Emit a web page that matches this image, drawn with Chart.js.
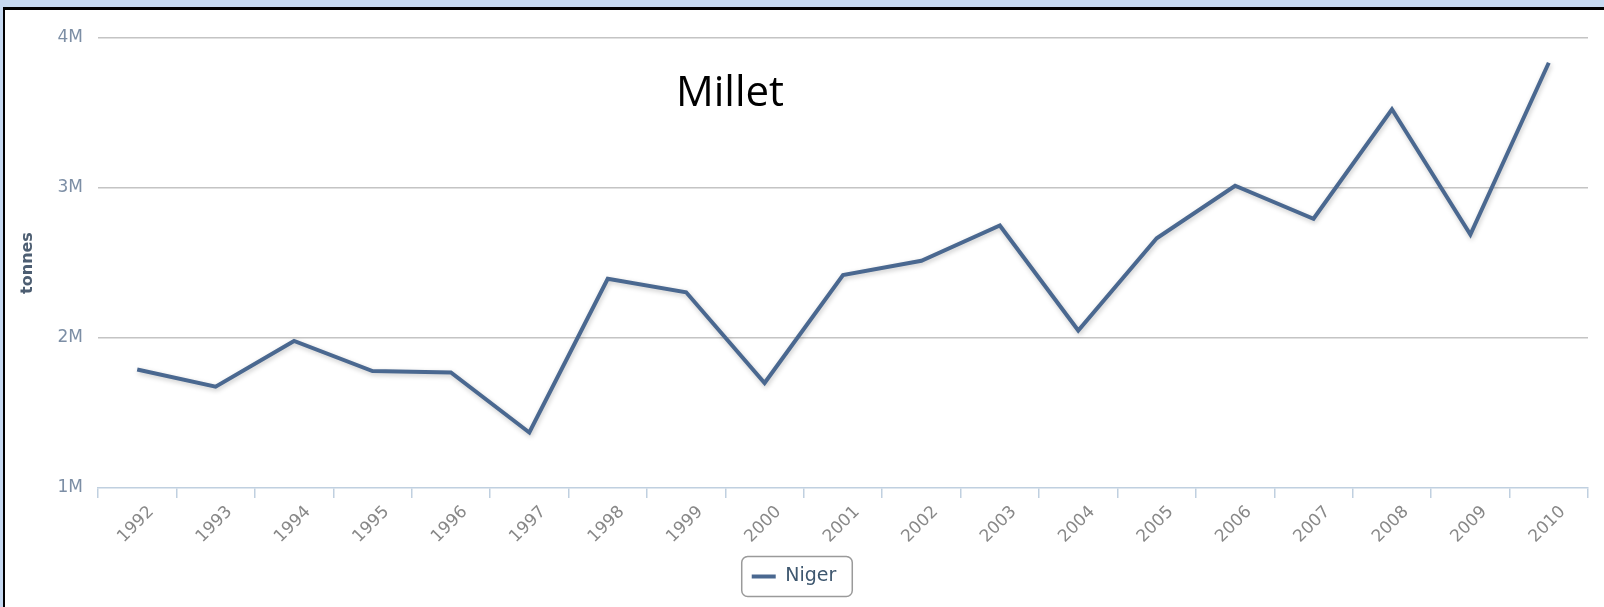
<!DOCTYPE html>
<html>
<head>
<meta charset="utf-8">
<script src="https://cdn.jsdelivr.net/npm/chart.js@4.4.1/dist/chart.umd.min.js"></script>
<style>
  html, body { margin: 0; padding: 0; width: 1604px; height: 607px; overflow: hidden; background: #c6d9f1; }
  #panel { position: absolute; left: 3px; top: 7px; right: 0; bottom: 0; background: #ffffff;
           border-top: 3px solid #000; border-left: 2px solid #000; }
  #wrap { position: absolute; left: 0; top: 0; width: 1604px; height: 607px; }
</style>
</head>
<body>
<div id="panel"></div>
<div id="wrap"><canvas id="c" width="1604" height="607"></canvas></div>
<script>
const years = ['1992','1993','1994','1995','1996','1997','1998','1999','2000','2001',
               '2002','2003','2004','2005','2006','2007','2008','2009','2010'];
const nigerMillet = [1790000, 1675000, 1980000, 1780000, 1770000, 1370000, 2395000, 2305000,
                     1700000, 2420000, 2515000, 2750000, 2050000, 2665000, 3015000, 2795000,
                     3525000, 2690000, 3835000];
const seriesName = 'Niger';
const chartTitle = 'Millet';
const yAxisTitle = 'tonnes';
const yMin = 1000000, yMax = 4000000, yStep = 1000000;

const titlePlugin = {
  id: 'overlayTitle',
  afterDraw(chart) {
    const ctx = chart.ctx;
    ctx.save();
    ctx.font = '42px "Open Sans"';
    ctx.fillStyle = '#000';
    ctx.textAlign = 'center';
    ctx.textBaseline = 'alphabetic';
    ctx.fillText(chartTitle, 730, 106);
    ctx.restore();
  }
};

const shadowPlugin = {
  id: 'lineShadow',
  beforeDatasetDraw(chart) {
    const ctx = chart.ctx;
    ctx.save();
    ctx.shadowColor = 'rgba(0,0,0,0.22)';
    ctx.shadowBlur = 5;
    ctx.shadowOffsetX = 1;
    ctx.shadowOffsetY = 2;
  },
  afterDatasetDraw(chart) {
    chart.ctx.restore();
  }
};

const legendBoxPlugin = {
  id: 'legendBox',
  afterDraw(chart) {
    const lg = chart.legend;
    if (!lg || !lg.legendHitBoxes || !lg.legendHitBoxes.length) return;
    const hb = lg.legendHitBoxes[0];
    const ctx = chart.ctx;
    const x = hb.left - 10, w = hb.width + 26;
    const cy = hb.top + hb.height / 2;
    const y = cy - 20, h = 40;
    ctx.save();
    ctx.strokeStyle = '#9a9a9a';
    ctx.lineWidth = 1.5;
    ctx.beginPath();
    ctx.roundRect(x, y, w, h, 6);
    ctx.stroke();
    ctx.restore();
  }
};

new Chart(document.getElementById('c'), {
  type: 'line',
  data: {
    labels: years,
    datasets: [{
      label: seriesName,
      data: nigerMillet,
      borderColor: '#4a6890',
      backgroundColor: '#4a6890',
      borderWidth: 4,
      pointRadius: 0,
      tension: 0,
      fill: false
    }]
  },
  options: {
    responsive: false,
    animation: false,
    layout: { padding: { top: 38, left: 0, right: 16, bottom: 11 } },
    plugins: {
      title: { display: false },
      tooltip: { enabled: false },
      legend: {
        display: true,
        position: 'bottom',
        labels: {
          usePointStyle: true,
          pointStyle: 'line',
          pointStyleWidth: 24,
          color: '#3e576f',
          font: { family: '"DejaVu Sans"', size: 19 },
          padding: 8
        }
      }
    },
    scales: {
      x: {
        offset: true,
        afterFit(scale) { scale.height = 71; },
        grid: {
          offset: true,
          drawOnChartArea: false,
          drawTicks: true,
          tickLength: 10,
          color: '#c0d0e0',
          lineWidth: 1.5
        },
        border: { display: true, color: '#c0d0e0', width: 1.5 },
        ticks: {
          autoSkip: false,
          minRotation: 45,
          maxRotation: 45,
          labelOffset: 14,
          color: '#888888',
          font: { family: '"DejaVu Sans"', size: 17 },
          padding: 4
        }
      },
      y: {
        min: yMin,
        max: yMax,
        afterFit(scale) { scale.width = 98; },
        title: {
          display: true,
          text: yAxisTitle,
          color: '#4d5e72',
          font: { family: '"DejaVu Sans"', size: 16, weight: 'bold' },
          padding: { top: 18, bottom: 0 }
        },
        grid: {
          drawTicks: false,
          color: (c) => (c.tick && c.tick.value === yMin) ? 'rgba(0,0,0,0)' : '#c4c4c4',
          lineWidth: 1.5
        },
        border: { display: false },
        ticks: {
          stepSize: yStep,
          padding: 15,
          color: '#7c8ea5',
          font: { family: '"DejaVu Sans"', size: 17 },
          callback: (v) => (v / 1000000) + 'M'
        }
      }
    }
  },
  plugins: [titlePlugin, shadowPlugin, legendBoxPlugin]
});
</script>
</body>
</html>
